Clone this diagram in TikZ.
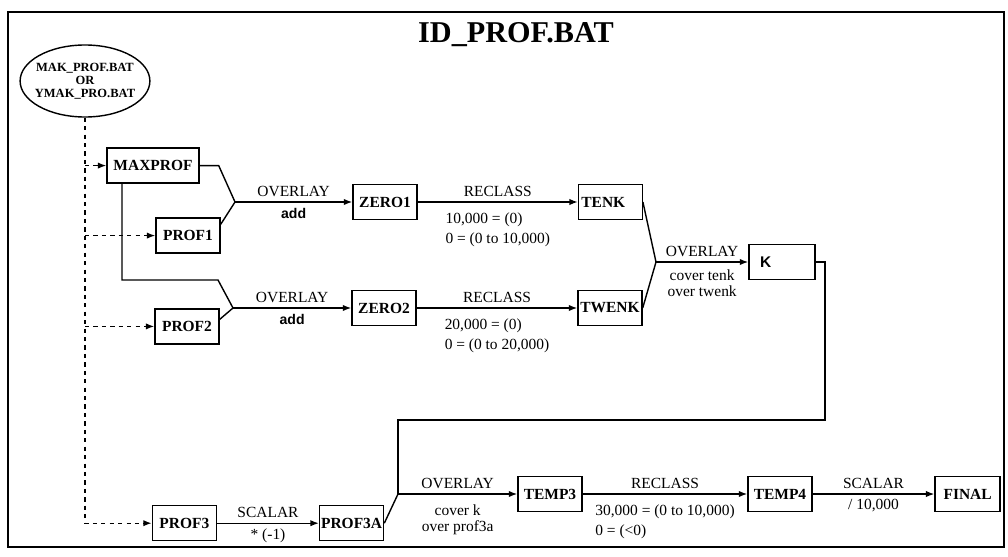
\documentclass[tikz,border=0pt]{standalone}
\usepackage{fontspec}
\setmainfont{Liberation Serif}
\newfontfamily\sansbf{Liberation Sans}
\usetikzlibrary{arrows.meta,shapes.geometric,calc}
\tikzset{
  box/.style={draw,line width=1pt,minimum height=0.875cm,inner xsep=2pt,font=\fontsize{11}{12}\selectfont\bfseries},
  link/.style={line width=1pt},
  flow/.style={line width=1pt,-{Latex[length=6pt,width=4.5pt]}},
  feed/.style={line width=0.9pt,dash pattern=on 3pt off 3pt,-{Latex[length=6pt,width=4.5pt]}},
  lbl/.style={font=\fontsize{11}{12}\selectfont},
  note/.style={font=\fontsize{11}{14}\selectfont,align=left,yshift=-4pt},
  addlbl/.style={font=\fontsize{10}{11}\sansbf\bfseries,yshift=-1pt}
}

\begin{document}
\begin{tikzpicture}
\useasboundingbox (0,0) rectangle (25.2,13.9);
\draw[line width=1pt] (0.2,0.225) rectangle (25.1,13.6);
\node[font=\fontsize{21.5}{24}\selectfont\bfseries] (title) at (12.9,13.03) {ID\_PROF.BAT};
\node[draw,ellipse,line width=1pt,minimum width=3.12cm,minimum height=1.8cm,inner xsep=-3pt,inner ysep=0pt,align=center,font=\fontsize{8.9}{9.4}\selectfont\bfseries] (src) at (2.125,11.875) {MAK\_PROF.BAT\\OR\\YMAK\_PRO.BAT};

\node[box,minimum width=2.3cm] (maxprof) at (3.825,9.76) {MAXPROF};
\node[box,minimum width=1.6cm] (prof1) at (4.7,8.01) {PROF1};
\node[box,minimum width=1.6cm] (prof2) at (4.675,5.74) {PROF2};
\node[box,minimum width=1.6cm] (prof3) at (4.61,0.82) {PROF3};
\node[box,minimum width=1.6cm,inner xsep=1pt] (prof3a) at (8.79,0.82) {PROF3A};
\node[box,minimum width=1.6cm] (zero1) at (9.625,8.85) {ZERO1};
\node[box,text width=1.45cm,align=left] (tenk) at (15.26,8.85) {TENK};
\node[box,minimum width=1.6cm] (zero2) at (9.6,6.2) {ZERO2};
\node[box,minimum width=1.6cm,inner xsep=1pt] (twenk) at (15.25,6.2) {TWENK};
\node[box,text width=1.51cm,align=left,font=\fontsize{11}{12}\sansbf\bfseries] (k) at (19.55,7.35) {\hspace*{6pt}K};
\node[box,minimum width=1.6cm] (temp3) at (13.75,1.55) {TEMP3};
\node[box,minimum width=1.6cm] (temp4) at (19.5,1.55) {TEMP4};
\node[box,minimum width=1.625cm] (final) at (24.19,1.55) {FINAL};

\coordinate (j1) at (5.875,8.85);
\coordinate (j2) at (5.825,6.2);
\coordinate (j3) at (16.4,7.35);
\coordinate (j4) at (9.95,1.55);
\coordinate (b2) at (5.45,6.9);
\coordinate (r1) at (20.625,3.4);

\draw[feed] (src.south) |- (prof3.west);
\draw[feed] (src.south |- maxprof) -- (maxprof.west);
\draw[feed] (src.south |- prof1) -- (prof1.west);
\draw[feed] (src.south |- prof2) -- (prof2.west);

\draw[link] (maxprof.east) -- ++(0.475,0) -- (j1);
\draw[link] ([yshift=8pt]prof1.east) -- (j1);
\draw[link] ([xshift=-0.775cm]maxprof.south) |- (b2) -- (j2);
\draw[link] ([yshift=5pt]prof2.east) -- (j2);
\draw[flow] (j1) -- node[lbl,above] (ov1) {OVERLAY} node[addlbl,below] (add1) {add} (zero1.west);
\draw[flow] (j2) -- node[lbl,above] (ov2) {OVERLAY} node[addlbl,below] (add2) {add} (zero2.west);

\draw[flow] (zero1) -- node[lbl,above] (rc1) {RECLASS} node[note,below] (rn1) {10,000 = (0)\\0 = (0 to 10,000)} (tenk);
\draw[flow] (zero2) -- node[lbl,above] (rc2) {RECLASS} node[note,below] (rn2) {20,000 = (0)\\0 = (0 to 20,000)} (twenk);

\draw[link] (tenk.east) -- (j3);
\draw[link] (twenk.east) -- (j3);
\draw[flow] (j3) -- node[lbl,above] (ov3) {OVERLAY} node[note,below,align=center,yshift=2pt,font=\fontsize{11}{11}\selectfont] (on3) {cover tenk\\over twenk} (k);

\draw[flow] (prof3) -- node[lbl,above] (sc1) {SCALAR} node[lbl,below] (sn1) {* (-1)} (prof3a);
\draw[link] (prof3a.east) -- (j4);
\draw[flow] (k.east) -| (r1) -| (j4) -- node[lbl,above] (ov4) {OVERLAY} node[note,below,align=center,font=\fontsize{11}{11}\selectfont] (on4) {cover k\\over prof3a} (temp3.west);
\draw[flow] (temp3) -- node[lbl,above] (rc3) {RECLASS} node[note,below] (rn3) {30,000 = (0 to 10,000)\\0 = (<0)} (temp4);
\draw[flow] (temp4) -- node[lbl,above] (sc2) {SCALAR} node[lbl,below] (sn2) {/ 10,000} (final);
\end{tikzpicture}
\end{document}
